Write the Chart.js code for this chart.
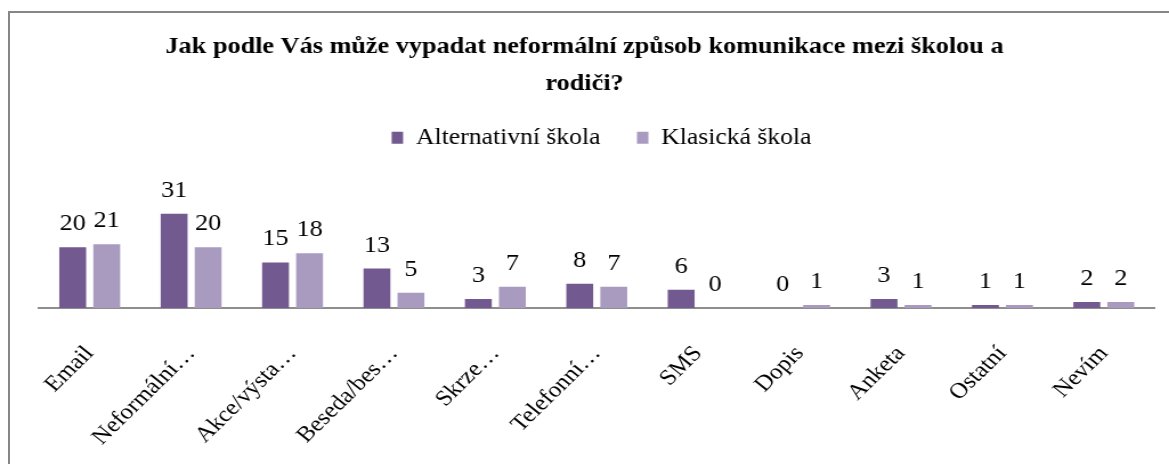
<!DOCTYPE html>
<html>
<head>
<meta charset="utf-8">
<script src="https://cdn.jsdelivr.net/npm/chart.js@4/dist/chart.umd.min.js"></script>
<style>
    html, body { margin: 0; padding: 0; background: #fff; overflow: hidden; }
    #frame {
        position: absolute; left: 8px; top: 11px; width: 1300px; height: 600px;
        border-top: 2px solid #868686; border-left: 2px solid #868686;
    }
    #wrap {
        position: absolute; left: 0; top: 0; width: 1025px; height: 464px;
        transform: scaleX(1.1405); transform-origin: 0 0;
    }
</style>
</head>
<body>
<div id="frame"></div>
<div id="wrap"><canvas id="chart" width="1025" height="464"></canvas></div>
<script>
var categories = ['Email', 'Neformální…', 'Akce/výsta…', 'Beseda/bes…', 'Skrze…', 'Telefonní…', 'SMS', 'Dopis', 'Anketa', 'Ostatní', 'Nevím'];
var alternativni = [20, 31, 15, 13, 3, 8, 6, 0, 3, 1, 2];
var klasicka = [21, 20, 18, 5, 7, 7, 0, 1, 1, 1, 2];

var serif = "'Liberation Serif', 'Times New Roman', serif";

// values above bars, placed from the bar elements
var barValues = {
    id: 'barValues',
    afterDatasetsDraw: function (chart) {
        var ctx = chart.ctx;
        ctx.save();
        ctx.font = '23px ' + serif;
        ctx.fillStyle = '#000';
        ctx.textAlign = 'center';
        ctx.textBaseline = 'middle';
        chart.data.datasets.forEach(function (ds, i) {
            chart.getDatasetMeta(i).data.forEach(function (bar, j) {
                ctx.fillText(String(ds.data[j]), bar.x, bar.y - 23);
            });
        });
        ctx.restore();
    }
};

// chart.js centres the legend including the trailing padding, nudge it back
var legendShift = {
    id: 'legendShift',
    afterLayout: function (chart) {
        chart.legend.left += 15;
        chart.legend.right += 15;
    }
};

var ctx = document.getElementById('chart').getContext('2d');
var chart = new Chart(ctx, {
    type: 'bar',
    data: {
        labels: categories,
        datasets: [{
            label: 'Alternativní škola',
            data: alternativni,
            backgroundColor: '#72598F'
        }, {
            label: 'Klasická škola',
            data: klasicka,
            backgroundColor: '#A99AC0'
        }]
    },
    options: {
        responsive: false,
        animation: false,
        layout: { padding: { left: 12.7, right: 12.7, top: 0, bottom: 0 } },
        datasets: {
            bar: { categoryPercentage: 0.671, barPercentage: 0.79 }
        },
        plugins: {
            title: {
                display: true,
                text: ['Jak podle Vás může vypadat neformální způsob komunikace mezi školou a', 'rodiči?'],
                color: '#000',
                font: { family: serif, size: 23, weight: 'bold', lineHeight: 1.61 },
                padding: { top: 28.5, bottom: -8 }
            },
            legend: {
                display: true,
                labels: {
                    color: '#000',
                    font: { family: serif, size: 22.5 },
                    boxWidth: 10,
                    boxHeight: 12,
                    padding: 32
                }
            },
            tooltip: { enabled: false }
        },
        scales: {
            x: {
                grid: { display: false },
                border: { display: true, color: '#8e8e8e', width: 2 },
                ticks: {
                    color: '#000',
                    font: { family: serif, size: 22 },
                    minRotation: 48,
                    maxRotation: 48,
                    autoSkip: false,
                    padding: 25
                },
                afterFit: function (scale) { scale.height = 156; }
            },
            y: {
                min: 0,
                max: 49,
                grid: { display: false },
                border: { display: false },
                ticks: { display: false },
                afterFit: function (scale) { scale.width = 21.5; }
            }
        }
    },
    plugins: [barValues, legendShift]
});
</script>
</body>
</html>
